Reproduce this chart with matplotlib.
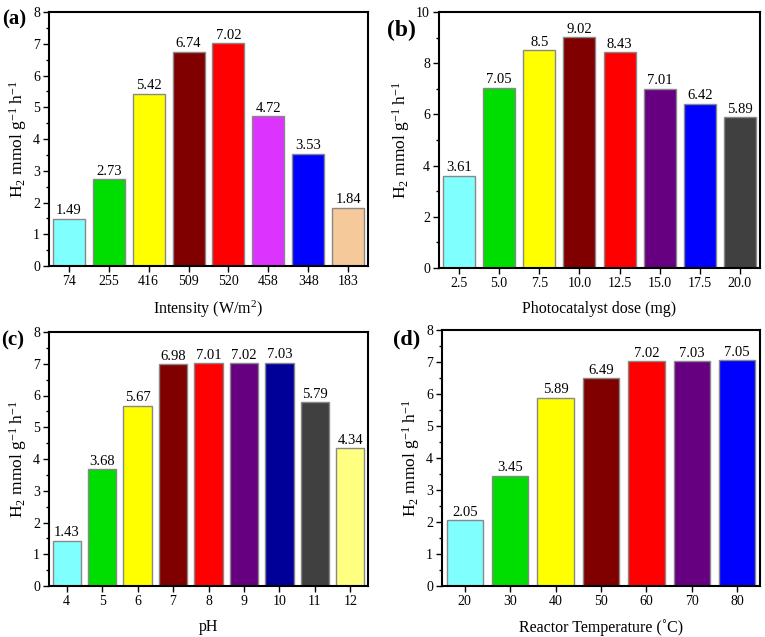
import matplotlib
matplotlib.use("Agg")
import matplotlib.pyplot as plt
from matplotlib.ticker import AutoMinorLocator

plt.rcParams['font.family'] = ['Liberation Serif', 'DejaVu Serif']
plt.rcParams['mathtext.fontset'] = 'custom'
plt.rcParams['mathtext.rm'] = 'Liberation Serif'
plt.rcParams['mathtext.it'] = 'Liberation Serif:italic'

a_labels = ["74", "255", "416", "509", "520", "458", "348", "183"]
a_values = [1.49, 2.73, 5.42, 6.74, 7.02, 4.72, 3.53, 1.84]
a_colors = ["#80FFFF", "#00DD00", "#FFFF00", "#800000", "#FF0000", "#DD33FF", "#0000FF", "#F5C99A"]

b_labels = ["2.5", "5.0", "7.5", "10.0", "12.5", "15.0", "17.5", "20.0"]
b_values = [3.61, 7.05, 8.5, 9.02, 8.43, 7.01, 6.42, 5.89]
b_text = ["3.61", "7.05", "8.5", "9.02", "8.43", "7.01", "6.42", "5.89"]
b_colors = ["#80FFFF", "#00DD00", "#FFFF00", "#800000", "#FF0000", "#660080", "#0000FF", "#404040"]

c_labels = ["4", "5", "6", "7", "8", "9", "10", "11", "12"]
c_values = [1.43, 3.68, 5.67, 6.98, 7.01, 7.02, 7.03, 5.79, 4.34]
c_colors = ["#80FFFF", "#00DD00", "#FFFF00", "#800000", "#FF0000", "#660080", "#000099", "#404040", "#FFFF80"]

d_labels = ["20", "30", "40", "50", "60", "70", "80"]
d_values = [2.05, 3.45, 5.89, 6.49, 7.02, 7.03, 7.05]
d_colors = ["#80FFFF", "#00DD00", "#FFFF00", "#800000", "#FF0000", "#660080", "#0000FF"]

W, H = 765, 637
fig = plt.figure(figsize=(W / 100, H / 100), dpi=100)

def make_ax(l, r, t, b):
    return fig.add_axes([l / W, 1 - b / H, (r - l) / W, (b - t) / H])

panels = [
    (make_ax(49, 368, 12, 266), a_labels, a_values, None, a_colors, 8, 1, "Intensity (W/m$^2$)", "(a)", (2, 19), 15),
    (make_ax(439, 760, 12, 268), b_labels, b_values, b_text, b_colors, 10, 2, "Photocatalyst dose (mg)", "(b)", (387, 30), 17),
    (make_ax(49, 368, 332, 586), c_labels, c_values, None, c_colors, 8, 1, "pH", "(c)", (1, 340), 15),
    (make_ax(442, 760, 330, 586), d_labels, d_values, None, d_colors, 8, 1, "Reactor Temperature (\u02daC)", "(d)", (393, 339), 16),
]

for ax, labels, values, texts, colors, ymax, ystep, xlabel, tag, tagpos, tagsize in panels:
    n = len(labels)
    x = list(range(n))
    ax.bar(x, values, width=0.8, color=colors, edgecolor="#888888", linewidth=1.0, zorder=2)
    if texts is None:
        texts = [f"{v:.2f}" for v in values]
    for xi, v, t in zip(x, values, texts):
        ax.text(xi, v + ymax * 0.006, t, ha="center", va="bottom", fontsize=10.5)
    ax.set_xlim(-0.5, n - 0.5)
    ax.set_ylim(0, ymax)
    ax.set_xticks(x)
    ax.set_xticklabels(labels, fontsize=10)
    ax.set_yticks(range(0, ymax + 1, ystep))
    ax.tick_params(axis="y", labelsize=10)
    ax.yaxis.set_minor_locator(AutoMinorLocator(2))
    ax.tick_params(which="both", direction="out", width=1.0, pad=2.5)
    ax.tick_params(which="major", length=4)
    ax.tick_params(which="minor", length=2.5)
    ax.tick_params(top=False, right=False)
    for s in ax.spines.values():
        s.set_linewidth(1.5)
    ax.set_xlabel(xlabel, fontsize=11.5, labelpad=8)
    ax.set_ylabel("H$_2$ mmol g$^{-1}$ h$^{-1}$", fontsize=12.5, labelpad=3)
    fig.text(tagpos[0] / W, 1 - tagpos[1] / H, tag, fontsize=tagsize, fontweight="bold", ha="left", va="center")

fig.savefig("out.png", dpi=100)
